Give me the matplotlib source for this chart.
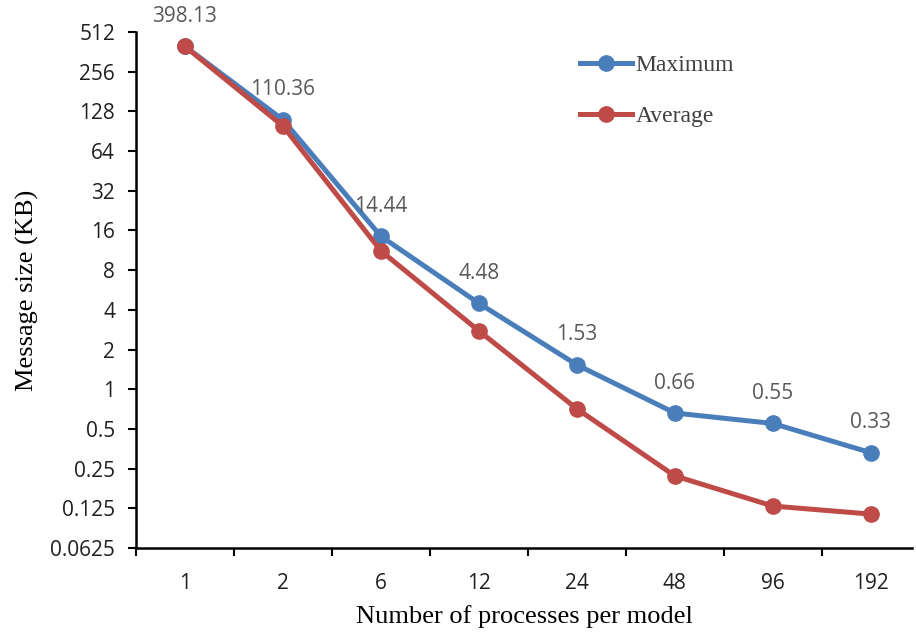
import matplotlib
matplotlib.use("Agg")
import matplotlib.pyplot as plt
import numpy as np

categories = ["1", "2", "6", "12", "24", "48", "96", "192"]
maximum = [398.13, 110.36, 14.44, 4.48, 1.53, 0.66, 0.55, 0.33]
average = [398.13, 99.0, 11.2, 2.77, 0.71, 0.22, 0.13, 0.113]
ytick_vals = [0.0625, 0.125, 0.25, 0.5, 1, 2, 4, 8, 16, 32, 64, 128, 256, 512]
ytick_labels = ["0.0625", "0.125", "0.25", "0.5", "1", "2", "4", "8", "16", "32", "64", "128", "256", "512"]

blue = "#4A7EBB"
red = "#BE4B48"

fig = plt.figure(figsize=(9.16, 6.34), dpi=100)
ax = fig.add_axes([136/916, 1-548/634, (912-136)/916, (548-32)/634])

x = np.arange(len(categories))
ax.plot(x, maximum, color=blue, lw=3.6, marker="o", ms=11, label="Maximum", zorder=3)
ax.plot(x, average, color=red, lw=3.6, marker="o", ms=11, label="Average", zorder=3)

for xi, v in zip(x, maximum):
    ax.annotate(f"{v:.2f}", (xi, v), xytext=(0, 14), textcoords="offset points",
                ha="center", va="bottom", fontsize=15, color="#595959",
                family="Open Sans")

ax.set_yscale("log", base=2)
ax.set_ylim(0.0625, 512)
ax.set_yticks(ytick_vals)
ax.set_yticklabels(ytick_labels)
ax.minorticks_off()
ax.set_xlim(-0.5, 7.42)
ax.set_xticks(x)
ax.set_xticklabels(categories)
ax.set_xticks(np.arange(-0.5, 7.5, 1.0), minor=True)
ax.tick_params(axis="x", which="major", length=0, pad=18)
ax.tick_params(axis="x", which="minor", length=6, width=1.5, direction="out")
ax.tick_params(axis="y", which="major", length=6, width=1.5, direction="out", pad=9)
for lab in ax.get_xticklabels() + ax.get_yticklabels():
    lab.set_family("Open Sans")
    lab.set_fontsize(15)
    lab.set_color("#202020")

for s in ["top", "right"]:
    ax.spines[s].set_visible(False)
for s in ["left", "bottom"]:
    ax.spines[s].set_linewidth(1.8)
    ax.spines[s].set_color("black")

ax.set_xlabel("Number of processes per model", family="Liberation Serif", fontsize=19, labelpad=8)
ax.set_ylabel("Message size (KB)", family="Liberation Serif", fontsize=19, labelpad=8)

leg = ax.legend(loc="upper left", bbox_to_anchor=(0.545, 0.998), frameon=False,
                prop={"family": "Liberation Serif", "size": 17},
                handlelength=2.2, handletextpad=0.15, labelspacing=1.25)
for t in leg.get_texts():
    t.set_color("#404040")

fig.savefig("out.png", dpi=100)
